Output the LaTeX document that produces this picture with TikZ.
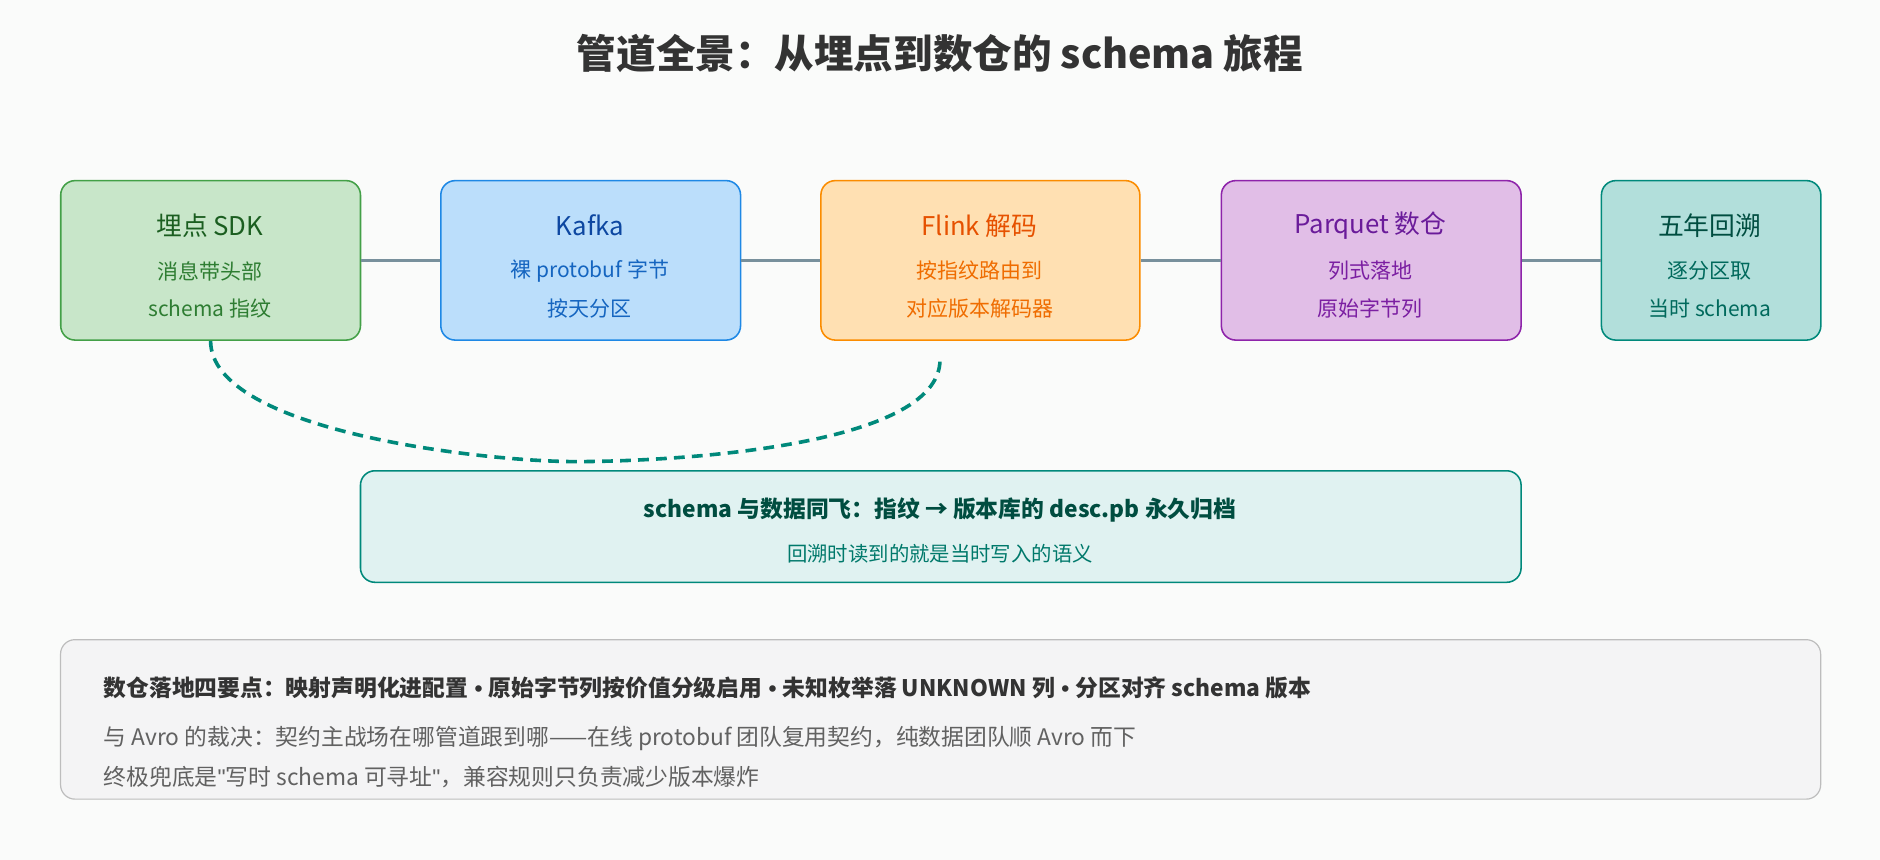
\documentclass[tikz,border=0pt]{standalone}
\usepackage{fontspec}
\setmainfont{Noto Sans CJK SC}
\newfontfamily\qf{Liberation Sans}
\begin{document}
\begin{tikzpicture}[x=1pt,y=-1pt,
  box/.style={draw,rounded corners=12pt,line width=1.3pt,anchor=north west},
  conn/.style={draw=gray1,line width=3pt},
  tt/.style={font=\fontsize{21.5}{24}\selectfont},
  st/.style={font=\fontsize{17.5}{20}\selectfont}]
\definecolor{bg}{HTML}{FAFBFA}
\definecolor{gray1}{HTML}{78909C}
\fill[bg] (0,0) rectangle (1568,717);
\useasboundingbox (0,0) rectangle (1568,717);
\node[font=\fontsize{33}{38}\selectfont\bfseries,text=black!80] (title) at (784,45) {管道全景：从埋点到数仓的 schema 旅程};
\definecolor{f1}{HTML}{C8E6C9}\definecolor{d1}{HTML}{43A047}\definecolor{t1}{HTML}{1B5E20}\definecolor{s1}{HTML}{2E7D32}
\definecolor{f2}{HTML}{BBDEFB}\definecolor{d2}{HTML}{1E88E5}\definecolor{t2}{HTML}{0D47A1}\definecolor{s2}{HTML}{1565C0}
\definecolor{f3}{HTML}{FFE0B2}\definecolor{d3}{HTML}{FB8C00}\definecolor{t3}{HTML}{E65100}\definecolor{s3}{HTML}{EF6C00}
\definecolor{f4}{HTML}{E1BEE7}\definecolor{d4}{HTML}{8E24AA}\definecolor{t4}{HTML}{6A1B9A}\definecolor{s4}{HTML}{7B1FA2}
\definecolor{f5}{HTML}{B2DFDB}\definecolor{d5}{HTML}{00897B}\definecolor{t5}{HTML}{004D40}\definecolor{s5}{HTML}{00695C}
\definecolor{nf}{HTML}{E0F2F1}\definecolor{nt}{HTML}{004D40}\definecolor{ns}{HTML}{00796B}
\node[box,fill=f1,draw=d1,minimum width=250,minimum height=133] (b1) at (50,150) {};
\node[box,fill=f2,draw=d2,minimum width=250,minimum height=133] (b2) at (367,150) {};
\node[box,fill=f3,draw=d3,minimum width=266,minimum height=133] (b3) at (684,150) {};
\node[box,fill=f4,draw=d4,minimum width=250,minimum height=133] (b4) at (1018,150) {};
\node[box,fill=f5,draw=d5,minimum width=183,minimum height=133] (b5) at (1335,150) {};
\draw[conn] (b1.east) -- (b2.west);
\draw[conn] (b2.east) -- (b3.west);
\draw[conn] (b3.east) -- (b4.west);
\draw[conn] (b4.east) -- (b5.west);
\foreach \n/\x/\a/\b/\c/\k in {
  1/175/埋点 SDK/消息带头部/schema 指纹/1,
  2/492/Kafka/裸 protobuf 字节/按天分区/2,
  3/817/Flink 解码/按指纹路由到/对应版本解码器/3,
  4/1143/Parquet 数仓/列式落地/原始字节列/4,
  5/1426/五年回溯/逐分区取/当时 schema/5}{
  \node[tt,text=t\k] (h\n) at (\x,188) {\a};
  \node[st,text=s\k] (p\n) at (\x,226) {\b};
  \node[st,text=s\k] (q\n) at (\x,257) {\c};
}
\node[box,fill=nf,draw=d5,minimum width=968,minimum height=93] (note) at (300,392) {};
\node[font=\fontsize{19}{22}\selectfont\bfseries,text=nt] (n1) at (784,425) {schema 与数据同飞：指纹 → 版本库的 desc.pb 永久归档};
\node[font=\fontsize{17}{20}\selectfont,text=ns] (n2) at (784,462) {回溯时读到的就是当时写入的语义};
\coordinate (ce) at (784,300);
\draw[d5,line width=3pt,dash pattern=on 9pt off 6pt] (b1.south) to[out=-90,in=180,looseness=0.6] (480,385) to[out=0,in=-90,looseness=0.6] (ce);
\definecolor{bf}{HTML}{F4F4F5}\definecolor{bd}{HTML}{BDBDBD}
\node[box,fill=bf,draw=bd,line width=1pt,minimum width=1468,minimum height=133] (bot) at (50,533) {};
\node[anchor=west,font=\fontsize{19}{22}\selectfont\bfseries,text=black!80] (l1) at (83,574) {数仓落地四要点：映射声明化进配置{\qf\ •\ }原始字节列按价值分级启用{\qf\ •\ }未知枚举落 UNKNOWN 列{\qf\ •\ }分区对齐 schema 版本};
\node[anchor=west,font=\fontsize{19}{22}\selectfont,text=black!62] (l2) at (83,616) {与 Avro 的裁决：契约主战场在哪管道跟到哪——在线 protobuf 团队复用契约，纯数据团队顺 Avro 而下};
\node[anchor=west,font=\fontsize{19}{22}\selectfont,text=black!62] (l3) at (83,648) {终极兜底是{\qf "}写时 schema 可寻址{\qf "}，兼容规则只负责减少版本爆炸};
\end{tikzpicture}
\end{document}
